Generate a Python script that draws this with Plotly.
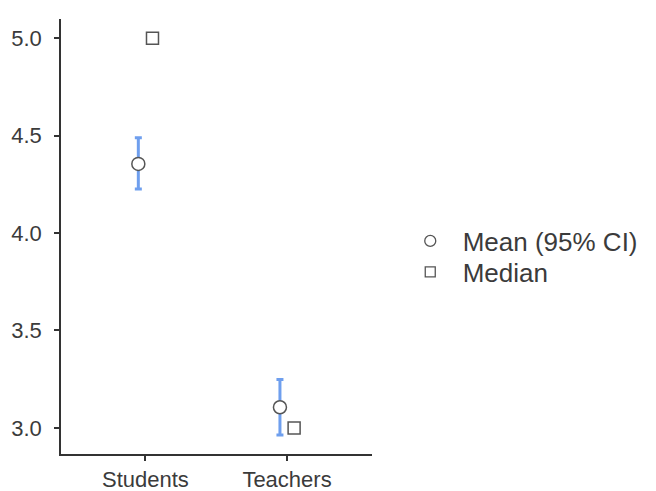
import plotly.graph_objects as go

# Summary statistics per group
groups = ["Students", "Teachers"]
means = [4.355, 3.106]
ci_lower = [4.226, 2.963]
ci_upper = [4.490, 3.249]
medians = [5.0, 3.0]

positions = list(range(1, len(groups) + 1))
offset = 0.05
text_color = "#3b3b3b"
axis_color = "#333333"
outline = "#555555"

err_plus = [u - m for u, m in zip(ci_upper, means)]
err_minus = [m - l for m, l in zip(means, ci_lower)]

fig = go.Figure()

# Means with 95% confidence intervals
fig.add_trace(go.Scatter(
    x=[p - offset for p in positions], y=means, mode="markers",
    marker=dict(symbol="circle", size=13, color="white",
                line=dict(color=outline, width=1.5)),
    error_y=dict(type="data", symmetric=False, array=err_plus, arrayminus=err_minus,
                 color="#6f9fee", thickness=3, width=3.5),
    showlegend=False, hoverinfo="skip",
))

# Medians
fig.add_trace(go.Scatter(
    x=[p + offset for p in positions], y=medians, mode="markers",
    marker=dict(symbol="square", size=12, color="white",
                line=dict(color=outline, width=1.5)),
    showlegend=False, hoverinfo="skip",
))

# Legend entries, one legend box each
fig.add_trace(go.Scatter(
    x=[None], y=[None], mode="markers", name="\u00a0\u2009Mean (95% CI)",
    marker=dict(symbol="circle", size=11, color="white",
                line=dict(color=outline, width=1.3)),
    legend="legend",
))
fig.add_trace(go.Scatter(
    x=[None], y=[None], mode="markers", name="\u00a0\u2009Median",
    marker=dict(symbol="square", size=10, color="white",
                line=dict(color=outline, width=1.3)),
    legend="legend2",
))

legend_common = dict(x=1.123, xanchor="left", yanchor="middle",
                     font=dict(size=26, color=text_color), itemsizing="trace",
                     bgcolor="rgba(0,0,0,0)", borderwidth=0)

fig.update_layout(
    width=656, height=491,
    margin=dict(l=61, r=284, t=19, b=37),
    paper_bgcolor="white", plot_bgcolor="white",
    font=dict(family="Liberation Sans, Arial, sans-serif", color=text_color, size=22),
    showlegend=True,
    legend=dict(y=0.4897, **legend_common),
    legend2=dict(y=0.4184, **legend_common),
)

fig.update_xaxes(
    range=[0.404, 2.6], tickvals=positions, ticktext=groups,
    showgrid=False, zeroline=False, showline=True, linecolor=axis_color, linewidth=1.5,
    ticks="outside", ticklen=5, tickwidth=1.5, tickcolor=axis_color,
    tickfont=dict(size=22, color=text_color), automargin=False, ticklabelstandoff=0,
)
fig.update_yaxes(
    range=[2.866, 5.099], tickvals=[3.0, 3.5, 4.0, 4.5, 5.0],
    ticktext=["3.0", "3.5", "4.0", "4.5", "5.0"],
    showgrid=False, zeroline=False, showline=True, linecolor=axis_color, linewidth=1.5,
    ticks="outside", ticklen=5, tickwidth=1.5, tickcolor=axis_color,
    tickfont=dict(size=22, color=text_color), automargin=False, ticklabelstandoff=8,
)

fig.write_html("out.html")
